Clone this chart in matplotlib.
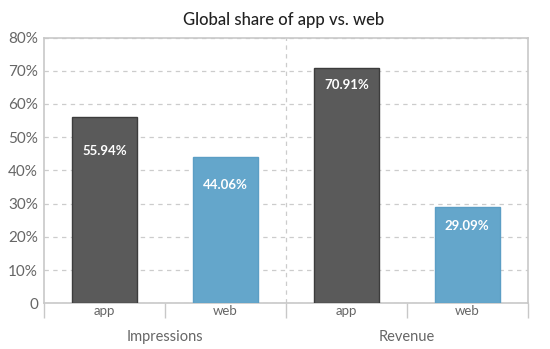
import matplotlib.pyplot as plt
import matplotlib.transforms as mtransforms

plt.rcParams['font.family'] = ['Lato', 'DejaVu Sans']

# share values in percent
groups = ['Impressions', 'Revenue']
channels = ['app', 'web']
shares = [55.94, 44.06, 70.91, 29.09]
bar_colors = ['#5a5a5a', '#64a6cb', '#5a5a5a', '#64a6cb']
edge_colors = ['#3c3c3c', '#5b9ec5', '#3c3c3c', '#5b9ec5']
# how far below the bar top each value label sits (pixels)
label_drop = [34, 28, 17, 19]
yticks = [0, 10, 20, 30, 40, 50, 60, 70, 80]

fig = plt.figure(figsize=(5.5, 3.49), dpi=100)
ax = fig.add_axes([0.0805, 0.131, 0.879, 0.7615])

xs = [i + 0.5 for i in range(len(shares))]
ax.bar(xs, shares, width=0.535, color=bar_colors, edgecolor=edge_colors,
       linewidth=1, zorder=3)

for x, v, d in zip(xs, shares, label_drop):
    ax.annotate('%.2f%%' % v, (x, v), xytext=(0, -d * 0.72), textcoords='offset points',
                ha='center', va='center', color='white', fontsize=9.5,
                fontweight='bold', zorder=4)

ax.set_xlim(0, 4)
ax.set_ylim(0, 80)

# y axis
ax.set_yticks(yticks)
ax.set_yticklabels(['0' if t == 0 else '%d%%' % t for t in yticks])
ax.tick_params(axis='y', length=0, pad=4.5, labelsize=11, labelcolor='#666666')
ax.yaxis.grid(True, linestyle=(0, (3.5, 3.5)), color='#cccccc', linewidth=0.9, zorder=0)

# x axis: boundaries as major ticks, channel names as minor ticks
ax.set_xticks([0, 1, 2, 3, 4])
ax.set_xticklabels([])
ax.tick_params(axis='x', which='major', length=10.5, width=1, color='#c8c8c8', direction='out')
ax.set_xticks(xs, minor=True)
ax.set_xticklabels(channels * len(groups), minor=True)
ax.tick_params(axis='x', which='minor', length=0, pad=1.5, labelsize=9.5, labelcolor='#666666')

ax.axvline(2, linestyle=(0, (3.5, 3.5)), color='#cccccc', linewidth=0.9, zorder=1)

trans = mtransforms.blended_transform_factory(ax.transData, ax.transAxes)
for i, g in enumerate(groups):
    ax.text(2 * i + 1, -0.125, g, transform=trans, ha='center', va='center',
            fontsize=10.5, color='#666666')

for s in ax.spines.values():
    s.set_color('#c8c8c8')
    s.set_linewidth(1.2)

fig.text(0.515, 0.942, 'Global share of app vs. web', ha='center', va='center',
         fontsize=12, fontweight='medium', color='#222222')

fig.savefig('out.png', dpi=100)
